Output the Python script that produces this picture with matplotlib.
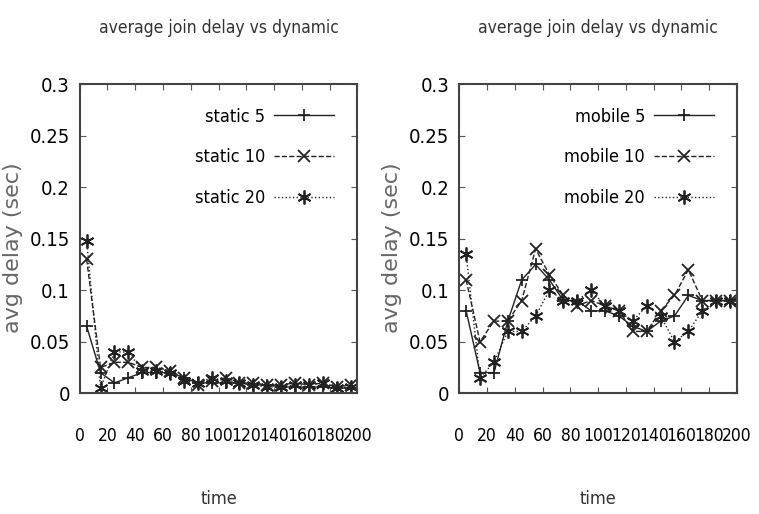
import matplotlib.pyplot as plt

# sample times
time = [5, 15, 25, 35, 45, 55, 65, 75, 85, 95,
        105, 115, 125, 135, 145, 155, 165, 175, 185, 195]

static_5 = [0.065, 0.02, 0.01, 0.015, 0.02, 0.02, 0.02, 0.015, 0.01, 0.01,
            0.01, 0.01, 0.008, 0.008, 0.006, 0.006, 0.006, 0.006, 0.005, 0.005]
static_10 = [0.13, 0.025, 0.03, 0.03, 0.025, 0.025, 0.022, 0.015, 0.008, 0.012,
             0.015, 0.01, 0.01, 0.008, 0.008, 0.01, 0.008, 0.01, 0.006, 0.008]
static_20 = [0.148, 0.005, 0.04, 0.04, 0.022, 0.022, 0.02, 0.012, 0.01, 0.015,
             0.012, 0.01, 0.008, 0.006, 0.006, 0.008, 0.008, 0.01, 0.005, 0.006]

mobile_5 = [0.08, 0.02, 0.02, 0.07, 0.11, 0.125, 0.11, 0.09, 0.09, 0.08,
            0.08, 0.075, 0.065, 0.06, 0.07, 0.075, 0.095, 0.09, 0.09, 0.09]
mobile_10 = [0.11, 0.05, 0.07, 0.07, 0.09, 0.14, 0.115, 0.095, 0.085, 0.09,
             0.085, 0.08, 0.06, 0.06, 0.08, 0.095, 0.12, 0.09, 0.09, 0.09]
mobile_20 = [0.135, 0.015, 0.03, 0.06, 0.06, 0.075, 0.1, 0.09, 0.09, 0.1,
             0.085, 0.08, 0.07, 0.085, 0.075, 0.05, 0.06, 0.08, 0.09, 0.09]

xticks = [0, 20, 40, 60, 80, 100, 120, 140, 160, 180, 200]
yticks = [0, 0.05, 0.1, 0.15, 0.2, 0.25, 0.3]
ytick_labels = ['0', '0.05', '0.1', '0.15', '0.2', '0.25', '0.3']

plt.rcParams['font.family'] = ['DejaVu Sans']
plt.rcParams['font.stretch'] = 'condensed'

fig = plt.figure(figsize=(7.59, 5.14), dpi=100)
ax1 = fig.add_axes([0.105, 0.235, 0.366, 0.601])
ax2 = fig.add_axes([0.605, 0.235, 0.366, 0.601])


def draw(ax, series, names):
    styles = [('-', '+', 9), ('--', 'x', 8), (':', (6, 2, 0), 10)]
    for ys, name, (ls, mk, ms) in zip(series, names, styles):
        ax.plot(time, ys, linestyle=ls, marker=mk, markersize=ms, color='#222222',
                linewidth=1.0, markeredgewidth=1.3, label=name)
    ax.set_xlim(0, 200)
    ax.set_ylim(0, 0.3)
    ax.set_xticks(xticks)
    ax.set_yticks(yticks)
    ax.set_yticklabels(ytick_labels)
    ax.tick_params(direction='in', top=True, right=True, length=4, color='#555555')
    ax.tick_params(axis='x', pad=24, labelsize=12.5)
    ax.tick_params(axis='y', pad=7, labelsize=14.5)
    for s in ax.spines.values():
        s.set_color('#444444')
        s.set_linewidth(1.5)
    ax.set_title('average join delay vs dynamic', fontsize=12.5, pad=37, color='#333333')
    ax.set_xlabel('time', fontsize=13, labelpad=33, color='#333333')
    ax.set_ylabel('avg delay (sec)', fontsize=16, color='#666666', stretch='normal')
    ax.yaxis.set_label_coords(-0.205, 0.47)
    leg = ax.legend(loc='upper right', frameon=False, markerfirst=False,
                    fontsize=13, handlelength=3.3, labelspacing=1.25,
                    borderaxespad=0.9, handletextpad=0.5)
    for t in leg.get_texts():
        t.set_ha('right')


draw(ax1, [static_5, static_10, static_20], ['static 5', 'static 10', 'static 20'])
draw(ax2, [mobile_5, mobile_10, mobile_20], ['mobile 5', 'mobile 10', 'mobile 20'])

fig.savefig('out.png', dpi=100)
